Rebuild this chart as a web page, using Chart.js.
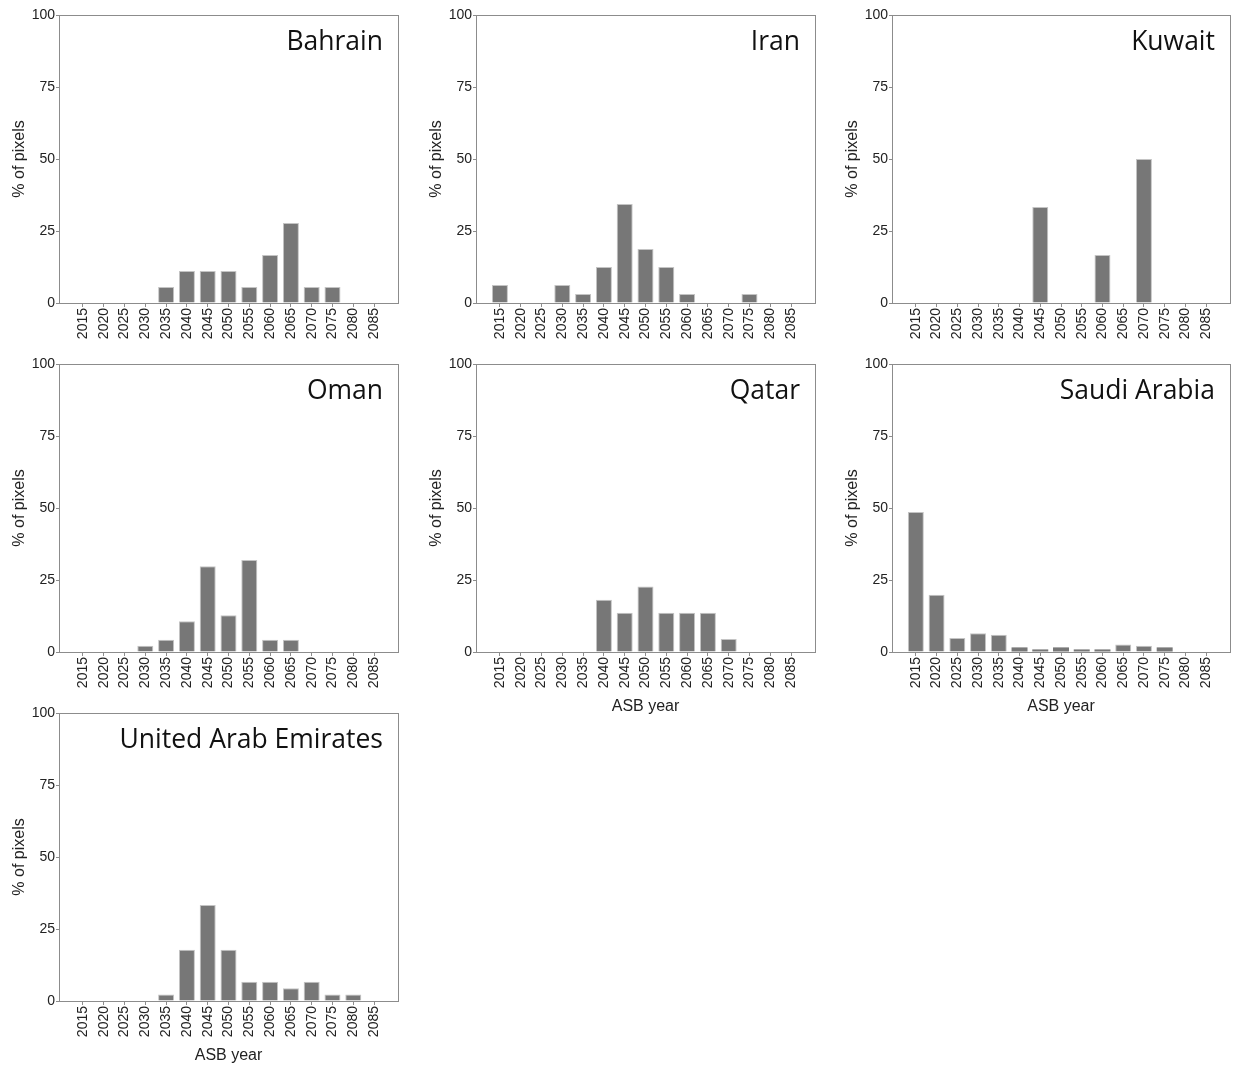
<!DOCTYPE html>
<html><head><meta charset="utf-8">
<script src="https://cdn.jsdelivr.net/npm/chart.js@4"></script>
<style>
html,body{margin:0;padding:0;background:#fff;}
#wrap{position:relative;width:1236px;height:1066px;overflow:hidden;background:#fff;}
.panel{position:absolute;}
</style></head><body><div id="wrap"></div>
<script>
// ---- data ----
const years = [2015,2020,2025,2030,2035,2040,2045,2050,2055,2060,2065,2070,2075,2080,2085];
const yTicks = [0,25,50,75,100];
const bahrain = [0,0,0,0,5.56,11.11,11.11,11.11,5.56,16.67,27.78,5.56,5.56,0,0];
const iran    = [6.25,0,0,6.25,3.13,12.5,34.38,18.75,12.5,3.13,0,0,3.13,0,0];
const kuwait  = [0,0,0,0,0,0,33.33,0,0,16.67,0,50,0,0,0];
const oman    = [0,0,0,2.13,4.26,10.64,29.79,12.77,31.91,4.26,4.26,0,0,0,0];
const qatar   = [0,0,0,0,0,18.18,13.64,22.73,13.64,13.64,13.64,4.55,0,0,0];
const saudi   = [48.6,19.9,4.9,6.5,6.0,1.6,0.9,1.6,0.9,0.9,2.6,2.2,1.6,0,0];
const uae     = [0,0,0,0,2.22,17.78,33.33,17.78,6.67,6.67,4.44,6.67,2.22,2.22,0];
const countryNames = ['Bahrain','Iran','Kuwait','Oman','Qatar','Saudi Arabia','United Arab Emirates'];
const countrySeries = [bahrain, iran, kuwait, oman, qatar, saudi, uae];
const showXTitle = [false,false,false,false,true,true,true];
const yTitle = '% of pixels';
const xTitle = 'ASB year';

// ---- layout ----
const colLeft=[59,476,892], colWidth=[339,339,338], rowTop=[15,364,713], plotH=288;
const AXW=59, PADT=15, PADR=10, XAXH=75;
const AXC='#8c8c8c', TXC='#222';
const FONT='"Liberation Sans", Arial, sans-serif';

const framePlugin = {
  id:'frame',
  afterDraw(chart, args, opts){
    const {ctx, chartArea:a} = chart;
    ctx.save();
    ctx.strokeStyle=AXC; ctx.lineWidth=1;
    ctx.strokeRect(a.left+0.5, a.top+0.5, a.right-a.left, a.bottom-a.top);
    ctx.fillStyle='#111';
    ctx.font='26.5px "Open Sans", sans-serif';
    ctx.textAlign='right'; ctx.textBaseline='alphabetic';
    ctx.fillText(opts.name, a.right-15, a.top+35);
    ctx.restore();
  }
};

const wrap=document.getElementById('wrap');
countryNames.forEach((name,i)=>{
  const col=i%3, row=Math.floor(i/3);
  const w=colWidth[col]+AXW+PADR, h=plotH+PADT+XAXH;
  const div=document.createElement('div'); div.className='panel';
  div.style.left=(colLeft[col]-AXW)+'px'; div.style.top=(rowTop[row]-PADT)+'px';
  div.style.width=w+'px'; div.style.height=h+'px';
  const c=document.createElement('canvas'); c.width=w; c.height=h;
  c.style.width=w+'px'; c.style.height=h+'px';
  div.appendChild(c); wrap.appendChild(div);
  const vals=countrySeries[i];
  new Chart(c,{
    type:'bar',
    data:{datasets:[{
      data: years.map((y,k)=>({x:y,y:vals[k]})),
      backgroundColor:'#777777',
      borderColor:'#c4c4c4',
      borderWidth: ctx => (ctx.raw && ctx.raw.y>2) ? 1 : 0,
      barPercentage:0.77, categoryPercentage:1
    }]},
    options:{
      responsive:false, animation:false, devicePixelRatio:1,
      layout:{padding:{top:PADT,right:PADR,left:0,bottom:0}},
      plugins:{legend:{display:false}, tooltip:{enabled:false}, frame:{name}},
      scales:{
        x:{type:'linear', min:2009.25, max:2090.75, offset:false,
          afterBuildTicks:s=>{s.ticks=years.map(v=>({value:v}));},
          afterFit:s=>{s.height=XAXH;},
          ticks:{autoSkip:false, maxRotation:90, minRotation:90, padding:1, color:TXC,
                 font:{family:FONT,size:14}, callback:v=>String(v)},
          grid:{display:true, offset:false, drawOnChartArea:false, drawTicks:true, tickLength:4, color:AXC},
          border:{display:true,color:AXC},
          title:{display:showXTitle[i], text:xTitle, color:TXC, font:{family:FONT,size:16}, padding:{top:0,bottom:11}}
        },
        y:{min:0,max:100,
          afterBuildTicks:s=>{s.ticks=yTicks.map(v=>({value:v}));},
          afterFit:s=>{s.width=AXW;},
          ticks:{padding:1, color:TXC, font:{family:FONT,size:14}},
          grid:{display:true, drawOnChartArea:false, drawTicks:true, tickLength:3, color:AXC},
          border:{display:true,color:AXC},
          title:{display:true, text:yTitle, color:TXC, font:{family:FONT,size:16}, padding:{top:10,bottom:0}}
        }
      }
    },
    plugins:[framePlugin]
  });
});
</script></body></html>
